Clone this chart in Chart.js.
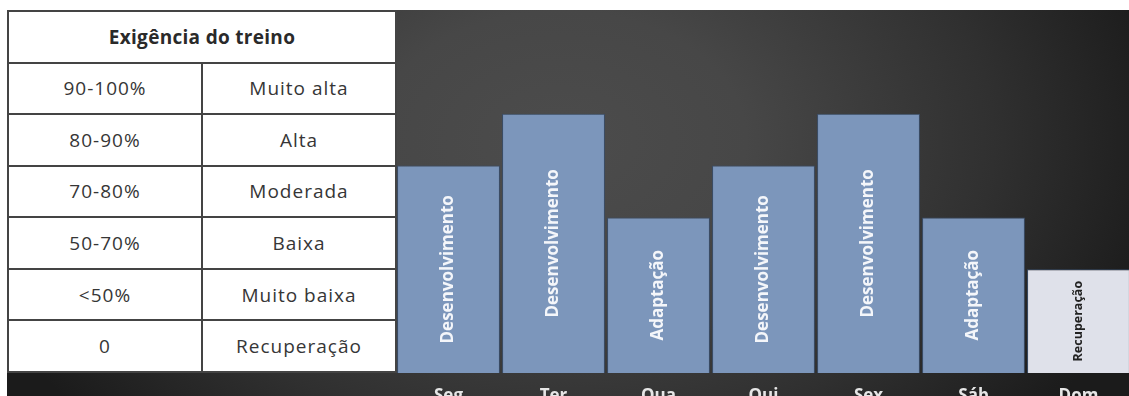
<!DOCTYPE html>
<html lang="pt">
<head>
<meta charset="utf-8">
<title>Exigência do treino</title>
<script src="https://cdn.jsdelivr.net/npm/chart.js@4/dist/chart.umd.min.js"></script>
<style>
  html, body { margin: 0; padding: 0; }
  body { width: 1129px; height: 396px; overflow: hidden; background: #fff; position: relative; font-family: "Open Sans", sans-serif; }
  #stage {
    position: absolute; left: 7px; top: 10px; width: 1122px; height: 386px;
    background: radial-gradient(ellipse 620px 430px at 553px 130px, #4c4c4c 0%, #474747 30%, #303030 70%, #1b1b1b 100%);
  }
  #tbl {
    position: absolute; left: 7px; top: 10px; width: 390px; height: 363px;
    border-collapse: collapse; background: #fff; border: 2px solid #333;
    color: #363636; font-size: 19px; letter-spacing: 1px;
  }
  #tbl th, #tbl td { border: 2px solid #444; text-align: center; padding: 0; }
  #tbl th { font-weight: bold; letter-spacing: 0.3px; color: #2a2a2a; }
  #chartBox { position: absolute; left: 396px; top: 10px; width: 735px; height: 386px; }
</style>
</head>
<body>
<div id="stage"></div>
<table id="tbl"></table>
<div id="chartBox"><canvas id="chart"></canvas></div>
<script>
// reference table
const tableTitle = 'Exigência do treino';
const ranges = ['90-100%', '80-90%', '70-80%', '50-70%', '<50%', '0'];
const levels = ['Muito alta', 'Alta', 'Moderada', 'Baixa', 'Muito baixa', 'Recuperação'];

// week plan (demand in table rows counted up from the bottom)
const days = ['Seg', 'Ter', 'Qua', 'Qui', 'Sex', 'Sáb', 'Dom'];
const demand = [4, 5, 3, 4, 5, 3, 2];
const phases = ['Desenvolvimento', 'Desenvolvimento', 'Adaptação', 'Desenvolvimento', 'Desenvolvimento', 'Adaptação', 'Recuperação'];

function buildTable(){
    const table = document.getElementById('tbl');
    let tr = document.createElement('tr');
    let th = document.createElement('th');
    th.colSpan = 2;
    th.innerText = tableTitle;
    tr.append(th);
    table.append(tr);
    ranges.forEach((r, i) => {
        let row = document.createElement('tr');
        let c1 = document.createElement('td');
        c1.innerText = r;
        c1.style.width = '50%';
        let c2 = document.createElement('td');
        c2.innerText = levels[i];
        row.append(c1, c2);
        table.append(row);
    });
}
buildTable();

const barColors = days.map(d => d === 'Dom' ? '#dfe1ea' : '#7c96bb');

// phase name written upright inside each bar
const phaseLabels = {
    id: 'phaseLabels',
    afterDatasetsDraw(chart){
        const ctx = chart.ctx;
        const meta = chart.getDatasetMeta(0);
        meta.data.forEach((bar, i) => {
            const rest = days[i] === 'Dom';
            ctx.save();
            ctx.translate(bar.x, (bar.y + bar.base) / 2);
            ctx.rotate(-Math.PI / 2);
            ctx.font = rest ? 'bold 12.5px "Open Sans"' : 'bold 17px "Open Sans"';
            ctx.fillStyle = rest ? '#222' : '#f4f6fa';
            ctx.textAlign = 'center';
            ctx.textBaseline = 'middle';
            ctx.fillText(phases[i], 0, 0);
            ctx.restore();
        });
    }
};

new Chart(document.getElementById('chart'), {
    type: 'bar',
    data: {
        labels: days,
        datasets: [{
            data: demand,
            backgroundColor: barColors,
            borderColor: '#3a4d68',
            borderWidth: 1,
            barPercentage: 0.98,
            categoryPercentage: 1
        }]
    },
    options: {
        responsive: true,
        maintainAspectRatio: false,
        animation: false,
        layout: { padding: 0 },
        plugins: { legend: { display: false }, tooltip: { enabled: false } },
        scales: {
            y: { display: false, min: 0, max: 7 },
            x: {
                grid: { display: false },
                border: { display: false },
                ticks: { color: '#e6e6e6', font: { family: 'Open Sans', size: 17, weight: 'bold' }, padding: 5 },
                afterFit: s => { s.height = 23; }
            }
        }
    },
    plugins: [phaseLabels]
});
</script>
</body>
</html>
